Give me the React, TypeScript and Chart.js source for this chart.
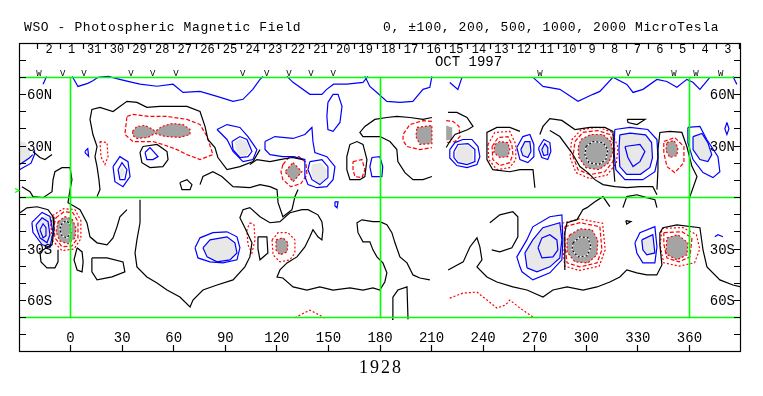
import React, { useEffect, useRef } from 'react';
import { Chart, registerables } from 'chart.js';
Chart.register(...registerables);

type P = [number, number];

// ---------------- labels / axes ----------------
const TITLE_LEFT = 'WSO - Photospheric Magnetic Field';
const TITLE_RIGHT = '0, \u00b1100, 200, 500, 1000, 2000 MicroTesla';
const ROTATION_LABEL = '1928';
const MONTH_LABEL = 'OCT 1997';
const MONTH_LABEL_LON = 231.5;
const LON_TICKS = [0, 30, 60, 90, 120, 150, 180, 210, 240, 270, 300, 330, 360];
const LAT_TICKS = [-80, -70, -60, -50, -40, -30, -20, -10, 0, 10, 20, 30, 40, 50, 60, 70, 80];
const LAT_LABEL_VALUES = [60, 30, -30, -60];
const LAT_LABEL_TEXT = ['60N', '30N', '30S', '60S'];
const DAY_LABELS = ['2', '1', '31', '30', '29', '28', '27', '26', '25', '24', '23', '22', '21', '20', '19', '18', '17', '16', '15', '14', '13', '12', '11', '10', '9', '8', '7', '6', '5', '4', '3'];
const DAY_START_LON = -19.1;
const DAY_STEP_LON = 13.16;
const MARK_LONS = [-18.4, -4.6, 7.8, 35.1, 47.8, 61.3, 100.1, 114.1, 127, 139.8, 152.8, 273, 324.4, 351, 363.8, 378.2];
const MARK_CHARS = ['W', 'V', 'V', 'V', 'V', 'V', 'V', 'V', 'V', 'V', 'V', 'W', 'V', 'W', 'W', 'W'];
const GREEN_LATS = [70, 0, -70];
const GREEN_LONS = [0, 180, 360];
const GREEN_MARK_LAT = 4;

// ---------------- dark (negative) filled cores ----------------
const D_BOWTIE: P[] = [[36, 38.5], [38.6, 41.4], [43.3, 42], [48, 39.6], [49.1, 38.5], [53.2, 41.4], [59, 43.1], [65.4, 42.5], [69.5, 39.6], [69.5, 36.7], [63.6, 35], [54.9, 35.6], [49.1, 37.3], [45, 35], [38.6, 34.4], [36.3, 36.1]];
const D_N130: P[] = [[129.4, 20.3], [134.6, 15], [129.4, 9.2], [124.7, 15]];
const D_N205: P[] = [[201.5, 40.8], [210.2, 42], [210.2, 31.4], [203.2, 30.9], [200.9, 35.5]];
const D_N220: P[] = [[218.5, 42], [222, 40.8], [222, 33.8], [218.5, 33.2]];
const D_N250: P[] = [[246.8, 30.9], [249.7, 32.6], [254.4, 32], [255.5, 27.9], [254.4, 23.8], [249.7, 23.3], [246.2, 26.2]];
const D_N305: P[] = [[296.9, 33.8], [302.7, 36.7], [309.7, 36.7], [314.3, 32.6], [315.5, 26.8], [313.1, 20.3], [307.3, 16.2], [299.8, 17.4], [295.7, 23.3], [295.2, 29.1]];
const D_N350: P[] = [[346.9, 32], [351, 33.2], [353.3, 29.1], [352.7, 24.4], [348.6, 23.3], [346.3, 27.4]];
const D_S0: P[] = [[-7.3, -14.1], [-3.3, -11.2], [0.8, -12.4], [3.1, -17.6], [2.6, -23.5], [-1.5, -27], [-6.2, -25.3], [-8.5, -20]];
const D_S122: P[] = [[119.5, -24.7], [123.5, -23.5], [126.5, -26.4], [125.9, -31.7], [121.8, -33.4], [119.5, -30.5]];
const D_S298: P[] = [[290.5, -21.7], [296.3, -18.2], [303.3, -18.8], [306.7, -24.7], [306.2, -33.4], [301, -38.1], [293.4, -37.5], [288.8, -31.7], [288.8, -24.7]];
const D_S352: P[] = [[346.9, -23.5], [353.3, -21.7], [359.1, -26.4], [358.6, -33.4], [352.7, -36.3], [346.3, -32.9]];

// 1000 level rings (inside dark cores)
const K1000_N305: P[] = [[299.8, 29.7], [303.9, 32.6], [309.7, 32], [312.6, 27.9], [311.4, 22.1], [307.3, 19.2], [301.5, 20.3], [299.2, 25]];
const K1000_S0: P[] = [[-5.6, -15.9], [-2.7, -13.5], [-0.3, -15.3], [0.2, -20.5], [-2.1, -23.5], [-5, -22.3], [-6.2, -18.8]];
const K1000_S298: P[] = [[292.3, -26.4], [296.3, -22.9], [301, -23.5], [302.7, -28.8], [300.4, -34], [295.2, -34.6], [291.7, -30.5]];

// ---------------- light (positive) filled cores ----------------
const L_NW: P[] = [[-30, 33], [-26.5, 32], [-23.5, 28], [-23.5, 23], [-26.5, 20], [-30, 19]];
const L_N29: P[] = [[28.1, 15], [29.9, 18.6], [31.6, 15], [30.5, 11.6], [28.7, 11.6]];
const L_N100: P[] = [[95.6, 32.6], [99.1, 34.4], [102.6, 32], [104.3, 26.8], [102, 24.4], [98.5, 24.4], [96.2, 27.9]];
const L_N145: P[] = [[140.4, 19.2], [145.6, 20.3], [149.1, 16.2], [148.5, 10.4], [145, 8.1], [141, 10.4], [139.8, 15]];
const L_N229: P[] = [[224, 26], [226, 30], [231, 30.5], [234, 27.5], [234, 21.5], [230.6, 20], [226, 21], [224, 23.5]];
const L_N265: P[] = [[261.9, 27.9], [264.3, 32.6], [267.2, 32.6], [267.8, 26.8], [266, 23.3], [263.1, 24.4]];
const L_N276: P[] = [[274.1, 27.9], [275.9, 31.4], [277.6, 29.1], [277.6, 25], [275.3, 24.4]];
const L_N328: P[] = [[319.5, 36.5], [325.5, 37.5], [334.5, 36.5], [338, 32], [338.5, 23], [337, 17.5], [331.5, 13.5], [323.5, 13.5], [319.5, 18], [319, 28]];
const L_N367: P[] = [[362.1, 35.5], [367.3, 37.3], [370.7, 32], [373, 25], [370.7, 20.9], [366.1, 22.1], [362.1, 27.9]];
const L_S15: P[] = [[-19.5, -14.1], [-14.9, -10.6], [-10.2, -12.9], [-9.1, -20.5], [-10.8, -29.3], [-14.9, -29.3], [-17.8, -24.7], [-19.5, -18.8]];
const L_S87: P[] = [[77, -29.3], [81.1, -24.7], [91, -22.9], [95.6, -26.4], [96.8, -32.3], [92.7, -36.3], [85.2, -37.5], [79.4, -34.6]];
const L_S276: P[] = [[265.5, -41], [264.3, -32.3], [268.9, -24.7], [274.7, -17.6], [284.6, -14.7], [285.8, -24.7], [284.6, -35.2], [278.8, -40.4], [271.3, -43.3]];
const L_S336: P[] = [[332.3, -24.7], [338.7, -21.7], [339.9, -32.3], [335.2, -33.4], [332.9, -30.5]];

// ---------------- blue (positive) contours ----------------
const B_TOP1: P[] = [[-14, 70.5], [-16, 66]];
const B_TOP2: P[] = [[1, 70.5], [4.3, 64.7], [10, 66.5], [13, 68], [16, 70], [22, 70.5], [28, 69], [34, 67.5], [40.4, 66], [50.3, 64.8], [59.6, 66], [65.4, 61.2], [75.3, 61.8], [85.2, 58.9], [94.5, 56], [100.3, 57.2], [106, 63], [110.2, 68.8], [112, 70.6]];
const B_TOP3: P[] = [[125.9, 70.6], [129.4, 67.1], [139.2, 60.1], [146.2, 60.1], [149, 63], [153, 66], [160.7, 66], [170.1, 67.1], [173, 70.6]];
const B_TALL: P[] = [[149.7, 55.4], [152.7, 60.1], [155.6, 60.1], [157.9, 53.1], [156.7, 43.7], [152.7, 38.5], [149.7, 39.6], [149.1, 47.2]];
const B_TOP4: P[] = [[171.2, 70.6], [174.1, 64.7], [178.2, 61.2], [184, 56], [191.6, 55.4], [199.1, 56], [205, 63], [209, 64.2], [210.2, 70.6]];
const B_TOP5: P[] = [[220.6, 67], [225.3, 63], [227.7, 70]];
const B_TOP6: P[] = [[269, 70], [274.8, 64.7], [284.6, 63], [295.2, 56], [303.9, 60.1], [307.9, 61.8], [315.5, 70], [323.6, 65.9], [327.2, 61.2], [333, 63], [341.1, 68.8], [346.9, 67.6], [352.7, 64.2], [358.5, 68.8], [362, 67.1], [366.1, 63], [371.9, 70]];
const B_TOP7: P[] = [[385.3, 70.5], [387.6, 65.9]];
const B_NW1: P[] = [[-30, 19], [-24, 23], [-22, 25]];
const B_NW2: P[] = [[-30, 16], [-23, 20], [-21, 25], [-21, 28]];
const B_N29_OUT: P[] = [[24.7, 18], [28.7, 23.8], [33.4, 20.9], [34.6, 12.2], [30.5, 6.3], [25.8, 9.2]];
const B_N29_IN: P[] = [[27.6, 16.2], [29.9, 20.3], [32.8, 16.2], [31.6, 10.4], [28.7, 10.4]];
const B_N46: P[] = [[43.3, 26.2], [46.2, 29.1], [50.9, 23.8], [47.9, 22.1], [44.4, 22.1]];
const B_N9: P[] = [[8.5, 27], [10, 28.5], [10.5, 24], [8.5, 26]];
const B_N100_OUT: P[] = [[85.2, 39.6], [91, 42.5], [98.5, 40.8], [103.2, 35.5], [108.4, 27.9], [106.1, 22.1], [100.3, 20.9], [94.5, 26.8], [91, 33.8]];
const B_N100_IN: P[] = [[93.9, 32.6], [98.5, 35.5], [102.6, 33.8], [105.5, 26.8], [103.2, 23.8], [98.5, 23.3], [94.5, 27.9]];
const B_N128: P[] = [[113.1, 32.6], [118.9, 35.5], [129.4, 34.4], [136.3, 36.7], [140.4, 40.8], [141, 32.6], [142.1, 26.2], [149.1, 23.8], [153.8, 18], [152.7, 10.4], [149.1, 6.3], [143.3, 5.7], [138.1, 7.5], [136.3, 12.2], [136.3, 22.1], [129.4, 23.8], [123.5, 23.8], [116, 25], [113.1, 28]];
const B_N145: P[] = [[139.2, 20.9], [146.2, 22.1], [149.7, 18], [149.7, 11.6], [145, 7.5], [140.4, 10.4], [138.1, 16.2]];
const B_N178: P[] = [[175.3, 23.3], [179.9, 23.8], [181.6, 18], [181.1, 12.2], [175.3, 12.2], [174.1, 18]];
const B_N229_OUT: P[] = [[220.6, 27.9], [223.6, 32], [228.2, 33.8], [233.5, 33.8], [237, 29.7], [238.1, 23.8], [236.4, 19.2], [230.6, 17.4], [224.7, 18.6], [220.6, 23]];
const B_N229_IN: P[] = [[223, 26.8], [225.3, 30.9], [231.2, 31.4], [235.2, 27.9], [235.2, 20.9], [230.6, 19.2], [225.3, 20.3], [223, 23.3]];
const B_N265_OUT: P[] = [[259.6, 29.1], [263.1, 35.5], [267.2, 36.7], [269.5, 30.9], [269.5, 23.8], [266, 20.3], [261.4, 22.1]];
const B_N276_OUT: P[] = [[272.4, 29.1], [275.3, 33.8], [278.8, 32], [279.4, 26.8], [277.6, 22.1], [274.1, 23.3], [272.4, 27.9]];
const B_N328_OUT: P[] = [[316.6, 39.6], [325.4, 40.8], [335.8, 39.6], [341.1, 33.8], [341.7, 23.3], [339.9, 15], [332.9, 10.4], [322.5, 10.4], [317.2, 16.2], [316, 27.9]];
const B_N328_IN: P[] = [[322.5, 29.7], [331.2, 30.9], [334.1, 26.8], [331.2, 20.9], [327.2, 18], [324.2, 23.3]];
const B_N367_OUT: P[] = [[359.1, 40.8], [366.1, 41.4], [370.1, 33.8], [376.6, 23.8], [377.7, 15], [373.7, 11.6], [367.9, 14.5], [362.1, 22.1], [359.1, 32]];
const B_N382: P[] = [[381.8, 43.7], [383, 40], [381.8, 36.7], [380.6, 40]];
const B_S15_OUT: P[] = [[-22.5, -14.5], [-16.6, -8.7], [-12, -11], [-10.2, -20.3], [-12, -29.1], [-16.6, -27.4], [-21.9, -20.3]];
const B_S15_MID: P[] = [[-20.1, -15.9], [-16.6, -11.8], [-13.1, -14.1], [-12, -21.7], [-13.7, -26.4], [-17.8, -23.5], [-19.5, -18.8]];
const B_S15_IN: P[] = [[-17.8, -18.8], [-16, -15.3], [-14.3, -17.6], [-14.3, -22.3], [-16, -23.5]];
const B_S87_OUT: P[] = [[72.4, -29.3], [75.3, -23.5], [82.8, -20.5], [91, -20], [96.8, -22.9], [98.5, -29.3], [96.8, -36.3], [88.6, -38.1], [81.1, -37.5], [74.1, -35.2]];
const B_S155: P[] = [[153.8, -2.5], [155.6, -2.5], [155, -6], [153.8, -5]];
const B_S276_OUT: P[] = [[261.4, -40.4], [259.6, -34.6], [265.4, -24.7], [268.9, -17.1], [278.8, -11.2], [285.8, -10.1], [286.4, -24.7], [285.8, -36.3], [278.8, -43.9], [268.9, -48], [262.6, -43.3]];
const B_S276_IN: P[] = [[271.9, -29.3], [274.2, -23.5], [278.8, -21.7], [282.9, -24.7], [283.5, -30.5], [280.6, -34.6], [274.2, -35.2]];
const B_S336_OUT: P[] = [[328.3, -26.4], [331.2, -20.5], [339.9, -17], [341.1, -28.7], [339.9, -38.1], [332.9, -38.1], [329.4, -32.3]];
const B_S376: P[] = [[374.8, -22.9], [376.6, -21.7], [379.5, -22.9]];

// ---------------- red (negative) contours ----------------
const R_BOWTIE: P[] = [[32.8, 47.2], [36.3, 48.4], [46.2, 47.2], [56.1, 47.2], [67.7, 45.5], [75.3, 42.5], [79.4, 35.5], [82.8, 25], [75.3, 22.1], [67.7, 25], [61.9, 27.9], [53.7, 30.9], [47.9, 32.6], [36.3, 32.6], [31.6, 36.7]];
const R_N19: P[] = [[17.1, 32.6], [21.2, 32], [21.8, 23.8], [20, 19.2], [17.7, 23.8]];
const R_N130: P[] = [[123.5, 19.2], [127, 23.3], [132.9, 23.8], [136.9, 20.3], [137.5, 13.3], [134, 8.1], [128.1, 6.3], [123.5, 10.4], [122.4, 15]];
const R_N166: P[] = [[164.3, 20.9], [169.5, 22.1], [171.2, 16.2], [169.5, 11.6], [165.4, 12.2], [164.3, 16.2]];
const R_N205: P[] = [[210.2, 44.3], [205, 44.8], [197.4, 42.5], [193.4, 36.7], [193.4, 33.2], [195.7, 29.7], [203.2, 27.9], [210.2, 29.1]];
const R_N220: P[] = [[218.5, 44.8], [222.6, 44.3], [226, 41.4], [226.5, 35.5], [223.6, 32.6], [218.5, 32]];
const R_N250_IN: P[] = [[245.2, 29.7], [248.7, 34.9], [254.4, 35.5], [256.7, 30.9], [257.3, 25], [255.5, 20.3], [249.7, 18.6], [245.6, 22.1]];
const R_N250_OUT: P[] = [[242.8, 30.9], [246.8, 37.9], [255.5, 38.5], [259, 30.9], [259, 22.1], [255.5, 17.4], [248, 16.2], [243.3, 22.1]];
const R_N305_IN: P[] = [[293.4, 32.6], [298, 37.9], [306.7, 39], [313.7, 36.7], [316.6, 29.1], [315.5, 20.9], [310.8, 15], [302.1, 13.3], [295.2, 16.2], [292.3, 23.8]];
const R_N305_OUT: P[] = [[291.5, 33.5], [297, 39.5], [307, 41], [315, 38], [318.5, 29], [317.5, 20], [312, 13], [302, 11], [294, 14.5], [290.5, 23.5]];
const R_N350: P[] = [[345.1, 32.6], [351.5, 34.9], [356.8, 29.7], [356.8, 20.3], [351.5, 14.5], [346.9, 18], [345.1, 26.2]];
const R_S0_IN: P[] = [[-8.5, -11.8], [-3.8, -8.3], [1.4, -8.9], [4.3, -14.1], [4.3, -23.5], [0.8, -28.2], [-5, -28.7], [-9.1, -23.5], [-9.7, -16.5]];
const R_S0_OUT: P[] = [[-10.5, -10.5], [-4, -6.5], [2.5, -7], [6, -13.5], [6, -24], [2, -30], [-5, -31], [-10.5, -25], [-11.5, -16]];
const R_S105: P[] = [[104.3, -14.7], [106.7, -15.9], [107.3, -24.7], [105.5, -32.3], [103.2, -27.6], [102.6, -18.8]];
const R_S122: P[] = [[117.2, -24.7], [120.7, -20.5], [126.5, -20.5], [130.5, -24.7], [130.5, -32.3], [127.6, -36.3], [121.8, -37.5], [117.8, -33.4]];
const R_S298_IN: P[] = [[287.5, -17], [296.3, -14.7], [307.9, -17], [309.1, -30.5], [306.2, -38.1], [296.3, -40.4], [288.8, -38.1], [287.5, -26.4]];
const R_S298_OUT: P[] = [[286, -15], [296, -12.5], [309.5, -15], [311, -30.5], [307.5, -40], [296, -42.5], [287.5, -40], [286, -27]];
const R_S352_IN: P[] = [[345.1, -20.5], [355.6, -19.9], [361.5, -23.5], [360.3, -34.6], [353.9, -37.5], [346.9, -35.2], [345.1, -27]];
const R_S352_OUT: P[] = [[344, -18], [356, -17.5], [364, -21.5], [366, -30], [363, -38], [354, -40], [345, -38], [343, -28]];
const R_SBOT1: P[] = [[130.5, -70], [139.2, -65.6], [148, -70.2]];
const R_SBOT2: P[] = [[220.6, -58.6], [228.2, -55.7], [236.4, -55.1], [242.2, -59.7], [248, -64.4], [253, -62.6], [255.5, -59.7], [261.4, -64.4], [269, -69.6], [272, -70.2]];

// ---------------- black (zero) contours ----------------
const K_N_LEFT: P[] = [[15.4, 0.5], [17.1, 4.6], [16.5, 10.4], [15.4, 18], [14.2, 23.8], [15.4, 29.7], [13, 36.7], [11.3, 45.5], [12.4, 51.3], [17.1, 52.5], [24.7, 50.1], [32.8, 56], [38.6, 55.4], [44.4, 52.5], [52, 53.1], [59.6, 53.1], [67.7, 53.1], [75.3, 50.1], [78.2, 41.4], [79.9, 33.8], [84, 29.1], [85.7, 23.3], [91, 16.2], [98.5, 18], [106.1, 20.9], [110.2, 27.9]];
const K_N_DIAMOND: P[] = [[42.1, 29.7], [50.3, 30.9], [56.1, 26.8], [56.7, 22.1], [53.7, 18], [46.2, 17.4], [41.5, 20.3], [40.4, 26.2]];
const K_N_W: P[] = [[-21.9, 26.8], [-17.8, 23.3], [-14.9, 22.1], [-10.8, 25]];
const K_EQ_LEFT: P[] = [[-28.3, 6.3], [-23.6, 3.4], [-21.9, 0.5], [-16, -0.1], [-10.8, 3.4], [-10.2, 10.4], [-9.1, 15], [-5, 17.4], [-0.3, 17.4], [0.8, 10.4], [-0.3, 4.6], [-1.5, -3], [2.6, -5.4], [5.5, -7.1], [9.5, -14.7], [11.3, -22.9], [15.4, -26.4], [21.2, -27.6], [24.7, -23.5], [27, -17.1], [28.7, -11.2], [32.8, -7.1]];
const K_N_SMALL: P[] = [[63.6, 8.7], [67.7, 10.4], [70.6, 7.5], [69.5, 4.6], [64.8, 4.6]];
const K_N_B1: P[] = [[75.3, 7.5], [77, 12.2], [82.8, 15], [88, 12.2], [94.5, 6.3], [104.3, 5.8], [110.2, 7.5], [116, 6.3], [120.1, 4.6], [120.7, -3], [123.5, -11.2], [128.8, -7.1], [130.5, 0.5], [132.3, 4.6]];
const K_N_B2: P[] = [[104.3, 19.2], [108.4, 22.1], [116, 20.9], [121.8, 22.1], [128.8, 23.3], [135.2, 22.1]];
const K_N_LOOP166: P[] = [[162.5, 30.9], [166.6, 32.6], [170.1, 30.9], [172.4, 22.1], [171.2, 12.2], [168.3, 10.4], [162.5, 10.4], [160.7, 16.2], [160.7, 23.8]];
const K_N_MID: P[] = [[210.2, 46.6], [205, 45.5], [197.4, 46.6], [189.8, 47.2], [184, 46.6], [177, 45.5], [171.2, 41.4], [168.3, 37.9], [170.1, 35.5], [180, 35.5], [185.8, 32.6], [189.8, 27.9], [190.4, 20.9], [194.5, 14.5], [199.2, 10.4], [205, 10.4], [210.2, 12.2]];
const K_N_GAPR: P[] = [[219.6, 49.6], [224.7, 49.6], [230.6, 46.6], [234.1, 41.4], [231.2, 39.6], [223.6, 36.7], [220.6, 32.6], [218.5, 29.1]];
const K_N_250: P[] = [[261.4, 38.5], [255.5, 40.8], [248, 40.8], [242.2, 37.9], [242.2, 22.1], [245.6, 16.2], [255.5, 15], [261.4, 16.2], [269, 16.2], [270.1, 5.7]];
const K_N_5A: P[] = [[273, 36.7], [274.8, 41.4], [278.8, 46], [285.8, 44.9], [293.4, 39.6], [302.1, 40.8], [310.8, 40.8], [315.5, 38.5], [316, 27.9], [316, 16.2], [316.6, 9.2]];
const K_N_5B: P[] = [[278.8, 39], [284.6, 35.5], [291.5, 26.2], [296.3, 18], [300.9, 14.5], [305, 10.4], [309.7, 7.5], [316.6, 6.3], [323.6, 5.8], [331.2, 6.3], [338.7, 6.3], [341.1, 1.6]];
const K_N_R: P[] = [[341.1, 4.6], [341.7, 16.2], [341.7, 27.9], [342.8, 37.9], [348.6, 38.5], [355.6, 37.9], [358.5, 29.7], [361.5, 18], [364.4, 12.2], [360.3, 0.5]];
const K_N_TINY: P[] = [[323.8, 45.5], [334.2, 45.5], [329.5, 42.5], [324.3, 43.7]];
const K_S_LEFT: P[] = [[-29.4, -8.9], [-25.4, -6], [-19.5, -5.4], [-13.1, -7.1], [-10.2, -11.2], [-9.7, -18.8], [-10.8, -27.6], [-14.9, -29.9], [-17.8, -31.7], [-17.2, -37.5], [-13.7, -41], [-9.1, -41], [-7.3, -37.5], [-7.3, -30.5]];
const K_S_LOOP1: P[] = [[3.8, -29.3], [6.7, -31.7], [7.3, -37.5], [6.7, -43.3], [3.8, -42.2], [2, -36.3]];
const K_S_LOOP2: P[] = [[12.4, -35.2], [21.2, -35.2], [30.5, -37.5], [31.6, -43.3], [24.1, -46.2], [15.4, -48], [12.4, -43.3]];
const K_S_LONG: P[] = [[40.4, -1.3], [40.4, -14.7], [38.6, -24.7], [37.5, -32.3], [38.6, -40.4], [44.4, -46.3], [50.3, -49.8], [56.1, -53.9], [63.6, -58], [69.5, -63.8], [71.2, -59.7], [77, -53.9], [85.2, -51], [94.5, -48], [101.4, -40.4], [104.3, -34.6], [105.5, -26.4], [101.4, -17.6], [98.5, -11.8], [100.3, -7.1], [104.3, -5.9], [110.2, -11.2], [116, -14.7], [121.8, -14.1], [127.6, -8.9], [134.6, -7.1], [138.1, -7.1], [143.9, -10.1], [146.2, -14.1], [146.8, -18.8], [146.2, -24.7], [143.9, -22.9], [141, -18.8], [139.2, -22.9], [136.3, -28.8], [131.7, -34.6], [125.9, -38.1], [121.8, -42.2], [120.1, -46.3], [123.5, -46.9], [129.4, -52.1], [137.5, -53.9], [145, -52.1], [152.7, -53.9], [162.5, -52.7], [170.1, -53.9], [175.9, -52.7], [179.9, -53.9], [182.8, -49.2], [184, -43.9], [181.7, -38.1], [178.2, -34.6], [175.9, -30.5], [174.1, -25.8], [170.1, -25.8], [167.2, -20.5], [166.6, -14.7], [169.5, -13], [175.9, -14.1], [179.9, -14.1], [184, -15.9], [186.9, -20.5], [188.7, -26.4], [191.6, -34.6], [195.7, -38.1], [199.2, -45.1], [203.2, -46.9], [209, -48]];
const K_S_LOOP3: P[] = [[109, -22.9], [114.2, -22.9], [114.8, -32.3], [110.2, -36.3], [109, -29.9]];
const K_S_BOTTOM: P[] = [[187, -71], [187.5, -58], [190.4, -53.9], [195.7, -52.1], [196.3, -71]];
const K_S_RIGHT: P[] = [[219.6, -42.2], [228.4, -37.5], [232.3, -28.8], [236.4, -23.5], [238.1, -28.8], [239.3, -36.3], [236.4, -40.4], [242.2, -46.3], [248, -49.2], [257.3, -52.1], [265.5, -53.9], [274.8, -58], [280.6, -53.9], [288.8, -52.1], [298.1, -53.9], [306.2, -52.1], [313.7, -49.2], [319.5, -46.3], [323.6, -42.2], [329.4, -43.9], [335.2, -45.1], [341, -45.1], [344, -39.3], [342.8, -27.6], [342.8, -20.6], [344.6, -17.6], [352.7, -15.9], [366.1, -17.6], [367.9, -30.5], [370.2, -40.4], [377.7, -48], [385.3, -51], [390, -52.1]];
const K_S_490: P[] = [[243.9, -14.7], [249.7, -10.1], [257.3, -8.3], [260.2, -11.2], [260.2, -22.9], [256.7, -29.3], [249.7, -31.7], [245, -30.5]];
const K_S_300: P[] = [[313.7, -5.3], [309.7, 0.5], [305, -2.5], [300.4, -5.9], [298, -7.1], [294.6, -12.9], [288.8, -14.7], [287.5, -20.5], [287.5, -42.2]];
const K_S_330: P[] = [[321.3, -5.9], [323.6, 0.5], [329.4, 1.6], [335.2, -0.1], [339.9, -1.3], [341.1, -5.9]];
const K_S_TRI: P[] = [[323, -13.5], [326, -14], [323.5, -15.5]];

// ---------------- styling ----------------
const BLUE = '#0000ff';
const RED = '#ff0000';
const BLACK = '#000000';
const GREEN = '#00ff00';
const DARK = '#a4a4a4';
const LIGHT = '#e8e8e8';
const DOTTED = [2, 2];
const DASHED = [4, 2];
const LW = 1.2;

const toXY = (a: P[]) => a.map(([x, y]) => ({ x, y }));
const loop = (a: P[]): P[] => [...a, a[0]];

function ln(data: P[], color: string, dash: number[] = [], extra: any = {}) {
  return {
    data: toXY(data), borderColor: color, borderWidth: LW, borderDash: dash,
    pointRadius: 0, showLine: true, fill: false, tension: 0, order: 0, ...extra,
  };
}
function area(data: P[], color: string) {
  return { data: toXY(data), polyFill: color, showLine: false, pointRadius: 0, borderWidth: 0, order: 5 };
}

function buildDatasets() {
  const ds: any[] = [];
  [D_BOWTIE, D_N130, D_N205, D_N220, D_N250, D_N305, D_N350, D_S0, D_S122, D_S298, D_S352].forEach((d) => ds.push(area(d, DARK)));
  [L_NW, L_N29, L_N100, L_N145, L_N229, L_N265, L_N276, L_N328, L_N367, L_S15, L_S87, L_S276, L_S336].forEach((d) => ds.push(area(d, LIGHT)));
  [K_N_LEFT, K_N_W, K_EQ_LEFT, K_N_B1, K_N_B2, K_N_MID, K_N_GAPR, K_N_250, K_N_5A, K_N_5B, K_N_R, K_S_LEFT, K_S_LONG, K_S_BOTTOM, K_S_RIGHT, K_S_490, K_S_300, K_S_330].forEach((d) => ds.push(ln(d, BLACK)));
  [K_N_DIAMOND, K_N_SMALL, K_N_LOOP166, K_N_TINY, K_S_LOOP1, K_S_LOOP2, K_S_LOOP3, K_S_TRI].forEach((d) => ds.push(ln(loop(d), BLACK)));
  [B_TOP1, B_TOP2, B_TOP3, B_TOP4, B_TOP5, B_TOP6, B_TOP7, B_NW1, B_NW2, B_S376].forEach((d) => ds.push(ln(d, BLUE)));
  [B_TALL, B_N29_OUT, B_N29_IN, B_N46, B_N9, B_N100_OUT, B_N100_IN, B_N128, B_N145, B_N178, B_N229_OUT, B_N229_IN, B_N265_OUT, L_N265, B_N276_OUT, L_N276,
    B_N328_OUT, L_N328, B_N328_IN, B_N367_OUT, L_N367, B_N382, B_S15_OUT, B_S15_MID, B_S15_IN, B_S87_OUT, L_S87, B_S155, B_S276_OUT, L_S276, B_S276_IN, B_S336_OUT, L_S336]
    .forEach((d) => ds.push(ln(loop(d), BLUE)));
  [R_BOWTIE, R_N130, R_N166, R_N250_IN, R_N305_IN, R_N350, R_S0_IN, R_S298_IN, R_S352_IN].forEach((d) => ds.push(ln(loop(d), RED, DASHED)));
  [R_N205, R_N220].forEach((d) => ds.push(ln(d, RED, DASHED)));
  [R_N19, R_N250_OUT, R_N305_OUT, R_S0_OUT, R_S105, R_S122, R_S298_OUT, R_S352_OUT].forEach((d) => ds.push(ln(loop(d), RED, DOTTED)));
  [R_SBOT1, R_SBOT2].forEach((d) => ds.push(ln(d, RED, DOTTED)));
  [D_BOWTIE, D_N130, D_N205, D_N250, D_N305, D_N350, D_S0, D_S122, D_S298, D_S352].forEach((d) => ds.push(ln(loop(d), RED, DOTTED)));
  [K1000_N305, K1000_S0, K1000_S298].forEach((d) => {
    ds.push(ln(loop(d), '#ffffff', [], { order: 1 }));
    ds.push(ln(loop(d), BLACK, [2, 2], { order: 0 }));
  });
  return ds;
}

const MONO = '"Liberation Mono", "DejaVu Sans Mono", monospace';
const px = (v: number) => Math.floor(v + 0.1) + 0.5;

const fillPlugin = {
  id: 'polyFill',
  beforeDatasetsDraw(chart: any) {
    const { ctx, chartArea: a } = chart;
    ctx.save();
    ctx.beginPath();
    ctx.rect(a.left, a.top, a.right - a.left, a.bottom - a.top);
    ctx.clip();
    chart.data.datasets.forEach((ds: any, i: number) => {
      if (!ds.polyFill) return;
      const pts = chart.getDatasetMeta(i).data;
      ctx.beginPath();
      pts.forEach((p: any, j: number) => (j ? ctx.lineTo(p.x, p.y) : ctx.moveTo(p.x, p.y)));
      ctx.closePath();
      ctx.fillStyle = ds.polyFill;
      ctx.fill();
    });
    ctx.restore();
  },
  afterDatasetsDraw(chart: any) {
    const { ctx } = chart;
    const xs = chart.scales.x;
    const ys = chart.scales.y;
    ctx.save();
    ctx.strokeStyle = GREEN;
    ctx.lineWidth = 1.6;
    ctx.setLineDash([]);
    ctx.beginPath();
    GREEN_LATS.forEach((v) => {
      const y = px(ys.getPixelForValue(v));
      ctx.moveTo(xs.getPixelForValue(-30), y); ctx.lineTo(xs.getPixelForValue(390), y);
    });
    GREEN_LONS.forEach((v) => {
      const x = px(xs.getPixelForValue(v));
      ctx.moveTo(x, ys.getPixelForValue(70)); ctx.lineTo(x, ys.getPixelForValue(-70));
    });
    ctx.stroke();
    ctx.restore();
  },
};

const overlayPlugin = {
  id: 'overlay',
  afterDraw(chart: any) {
    const { ctx, chartArea: a } = chart;
    const xs = chart.scales.x;
    const ys = chart.scales.y;
    const L = a.left, R = a.right, T = a.top, B = a.bottom;
    ctx.save();
    ctx.strokeStyle = BLACK;
    ctx.fillStyle = BLACK;
    ctx.lineWidth = 1.2;
    ctx.setLineDash([]);
    ctx.strokeRect(px(L), px(T), Math.round(R - L) - 1, Math.round(B - T) - 1);
    ctx.beginPath();
    LAT_TICKS.forEach((v) => {
      const y = px(ys.getPixelForValue(v));
      ctx.moveTo(L, y); ctx.lineTo(L + 7, y);
      ctx.moveTo(R - 7, y); ctx.lineTo(R, y);
    });
    LON_TICKS.forEach((v) => {
      const x = px(xs.getPixelForValue(v));
      ctx.moveTo(x, B); ctx.lineTo(x, B - 7);
    });
    for (let i = 0; i <= DAY_LABELS.length; i++) {
      const x = px(xs.getPixelForValue(DAY_START_LON + i * DAY_STEP_LON));
      if (x > R - 1) continue;
      ctx.moveTo(x, T); ctx.lineTo(x, T + 6);
    }
    ctx.stroke();

    ctx.font = '14px ' + MONO;
    ctx.textBaseline = 'middle';
    ctx.textAlign = 'left';
    LAT_LABEL_VALUES.forEach((v, i) => ctx.fillText(LAT_LABEL_TEXT[i], L + 8, ys.getPixelForValue(v) + 1));
    ctx.textAlign = 'right';
    LAT_LABEL_VALUES.forEach((v, i) => ctx.fillText(LAT_LABEL_TEXT[i], R - 6, ys.getPixelForValue(v) + 1));
    ctx.textAlign = 'center';
    LON_TICKS.forEach((v) => ctx.fillText(String(v), xs.getPixelForValue(v), B - 14));

    ctx.textBaseline = 'alphabetic';
    ctx.font = '12px ' + MONO;
    DAY_LABELS.forEach((t, i) => ctx.fillText(t, xs.getPixelForValue(DAY_START_LON + (i + 0.5) * DAY_STEP_LON), T + 10));
    ctx.font = '14px ' + MONO;
    ctx.fillText(MONTH_LABEL, xs.getPixelForValue(MONTH_LABEL_LON), T + 23);
    ctx.font = '9px ' + MONO;
    MARK_LONS.forEach((v, i) => ctx.fillText(MARK_CHARS[i], xs.getPixelForValue(v), T + 33));

    ctx.font = '13px ' + MONO;
    try { (ctx as any).letterSpacing = '0.6px'; } catch (e) { /* ignore */ }
    ctx.textAlign = 'left';
    ctx.fillText(TITLE_LEFT, 24, T - 12);
    ctx.fillText(TITLE_RIGHT, 383, T - 12);

    ctx.textAlign = 'center';
    ctx.font = '18px "Liberation Serif", "DejaVu Serif", serif';
    try { (ctx as any).letterSpacing = '2px'; } catch (e) { /* ignore */ }
    ctx.fillText(ROTATION_LABEL, xs.getPixelForValue(180) + 1, B + 21);
    try { (ctx as any).letterSpacing = '0px'; } catch (e) { /* ignore */ }

    const gy = px(ys.getPixelForValue(GREEN_MARK_LAT));
    ctx.strokeStyle = GREEN;
    ctx.lineWidth = 1.2;
    ctx.beginPath();
    ctx.moveTo(L - 4, gy - 2); ctx.lineTo(L, gy); ctx.lineTo(L - 4, gy + 2);
    ctx.stroke();
    ctx.restore();
  },
};

export default function App() {
  const ref = useRef<HTMLCanvasElement | null>(null);
  useEffect(() => {
    if (!ref.current) return;
    const chart = new Chart(ref.current, {
      type: 'scatter',
      data: { datasets: buildDatasets() },
      options: {
        responsive: false,
        animation: false,
        devicePixelRatio: 1,
        events: [],
        layout: { padding: { left: 19, right: 22, top: 43, bottom: 44 } },
        scales: {
          x: { type: 'linear', min: -30, max: 390, display: false },
          y: { type: 'linear', min: -90, max: 90, display: false },
        },
        plugins: { legend: { display: false }, tooltip: { enabled: false }, title: { display: false } },
      },
      plugins: [fillPlugin, overlayPlugin],
    } as any);
    return () => chart.destroy();
  }, []);
  return (
    <div style={{ position: 'fixed', left: 0, top: 0, width: 763, height: 396, background: '#fff' }}>
      <canvas ref={ref} width={763} height={396} style={{ display: 'block' }} />
    </div>
  );
}
